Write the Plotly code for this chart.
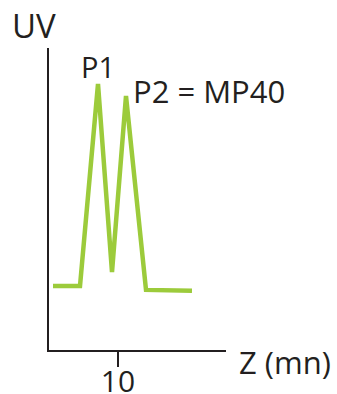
import plotly.graph_objects as go

# Data
time_min = [3.5, 6.2, 8.0, 9.4, 10.8, 12.8, 17.4]
uv_signal = [21.2, 21.2, 88.1, 25.8, 84.1, 19.9, 19.6]
tick_vals = [10]
tick_text = ["10"]
peak_labels = ["P1", "P2 = MP40"]

FONT = "Open Sans"
INK = "#231f20"
GREEN = "#9ccb3b"

fig = go.Figure()
fig.add_trace(go.Scatter(
    x=time_min, y=uv_signal, mode="lines",
    line=dict(color=GREEN, width=4.5),
    hoverinfo="skip", cliponaxis=False,
))

fig.update_layout(
    width=337, height=394,
    margin=dict(l=49, r=111, t=48, b=44, autoexpand=False),
    paper_bgcolor="white", plot_bgcolor="white",
    showlegend=False,
    font=dict(family=FONT, color=INK),
    xaxis=dict(
        range=[3.1, 20.8], showgrid=False, zeroline=False, automargin=False,
        showline=True, linecolor=INK, linewidth=2,
        ticks="outside", ticklen=15, tickwidth=2, tickcolor=INK,
        tickvals=tick_vals, ticktext=tick_text, ticklabelstandoff=-11,
        tickfont=dict(size=30, family=FONT, color=INK),
    ),
    yaxis=dict(
        range=[0, 100], showgrid=False, zeroline=False, automargin=False,
        showline=True, linecolor=INK, linewidth=2,
        showticklabels=False, ticks="",
    ),
    annotations=[
        dict(x=time_min[2], y=uv_signal[2], xref="x", yref="y",
             text=peak_labels[0], showarrow=False, xanchor="center", yanchor="bottom",
             yshift=-4, font=dict(size=29, family=FONT, color=INK)),
        dict(x=time_min[4], y=uv_signal[4], xref="x", yref="y",
             text=peak_labels[1], showarrow=False, xanchor="left", yanchor="middle",
             xshift=5, yshift=5, font=dict(size=31, family=FONT, color=INK)),
        dict(x=-0.085, y=1.073, xref="paper", yref="paper",
             text="UV", showarrow=False, xanchor="center", yanchor="middle",
             font=dict(size=33, family=FONT, color=INK)),
        dict(x=1.062, y=-0.04, xref="paper", yref="paper",
             text="Z (mn)", showarrow=False, xanchor="left", yanchor="middle",
             font=dict(size=31, family=FONT, color=INK)),
    ],
)

fig.write_html(
    "out.html",
    config={"displayModeBar": False},
    post_script="document.body.style.margin='0';document.body.style.overflow='hidden';",
)
